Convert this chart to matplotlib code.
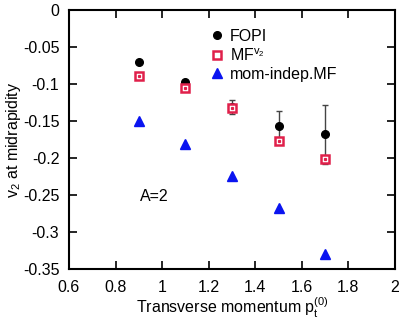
import matplotlib
matplotlib.use("Agg")
import matplotlib.pyplot as plt

plt.rcParams['font.family'] = ['Liberation Sans', 'DejaVu Sans']
plt.rcParams['mathtext.fontset'] = 'custom'
plt.rcParams['mathtext.rm'] = 'Liberation Sans'
plt.rcParams['mathtext.it'] = 'Liberation Sans'

pt = [0.9, 1.1, 1.3, 1.5, 1.7]
fopi = [-0.070, -0.097, -0.131, -0.157, -0.168]
fopi_err = [0.0, 0.0, 0.010, 0.020, 0.040]
mf_v2 = [-0.089, -0.106, -0.133, -0.177, -0.202]
mom_indep = [-0.150, -0.181, -0.224, -0.267, -0.330]

fig = plt.figure(figsize=(4.02, 3.2), dpi=100)
ax = fig.add_axes([69/402, 1-269/320, 326/402, 259/320])

ax.errorbar(pt, fopi, yerr=fopi_err, fmt='none', ecolor='#444444', elinewidth=1.0,
            capsize=2.5, capthick=1.0, zorder=2)
ax.plot(pt, fopi, 'o', color='black', markersize=5.5, zorder=4, label='FOPI')
ax.plot(pt, mf_v2, 's', markerfacecolor='white', markeredgecolor='#e0204a',
        markeredgewidth=1.8, markersize=6, zorder=5, label='MF$^{\\mathrm{v}_2}$')
ax.plot(pt, mf_v2, 's', color='#e0204a', markersize=1.3, zorder=6)
ax.plot(pt, mom_indep, '^', color='#0a14f0', markersize=6.5, zorder=3, label='mom-indep.MF')

ax.set_xlim(0.6, 2.0)
ax.set_ylim(-0.35, 0.0)
ax.set_xticks([0.6, 0.8, 1.0, 1.2, 1.4, 1.6, 1.8, 2.0])
ax.set_xticklabels(['0.6', '0.8', '1', '1.2', '1.4', '1.6', '1.8', '2'])
ax.set_yticks([0, -0.05, -0.1, -0.15, -0.2, -0.25, -0.3, -0.35])
ax.set_yticklabels(['0', '-0.05', '-0.1', '-0.15', '-0.2', '-0.25', '-0.3', '-0.35'])
ax.tick_params(direction='in', length=6, width=1.2, top=True, right=True, labelsize=11.5)
ax.tick_params(axis='x', pad=8)
ax.tick_params(axis='y', pad=7)
for s in ax.spines.values():
    s.set_linewidth(1.5)

ax.set_xlabel('Transverse momentum p$_\\mathrm{t}^{(0)}$', fontsize=11.5)
ax.xaxis.set_label_coords(0.5, -0.102)
ax.set_ylabel('v$_2$ at midrapidity', fontsize=11.5)
ax.yaxis.set_label_coords(-0.14, 0.5)

ax.text(0.905, -0.252, 'A=2', fontsize=11.5, va='center', ha='left')

leg = ax.legend(loc='upper left', bbox_to_anchor=(0.396, 0.97), frameon=False, fontsize=11.5,
                handletextpad=0.3, handlelength=1.0, labelspacing=0.2, borderpad=0.2)

fig.savefig('out.png', dpi=100)
